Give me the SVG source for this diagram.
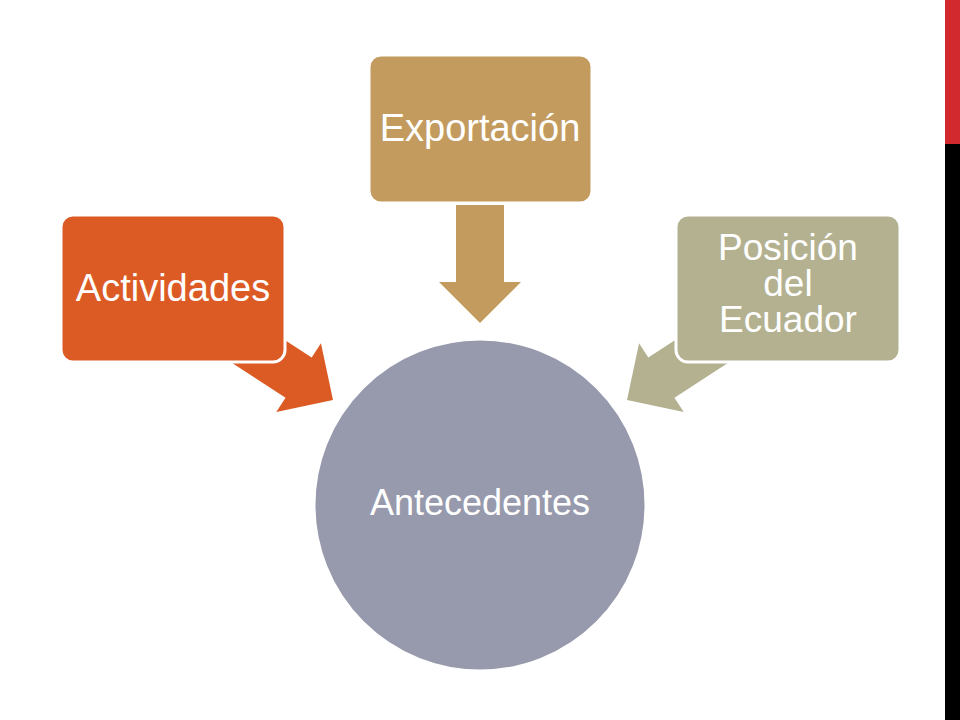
<svg xmlns="http://www.w3.org/2000/svg" width="960" height="720" viewBox="0 0 960 720">
<style>
.lbl{font-family:"Liberation Sans",Arial,sans-serif;fill:#ffffff;text-anchor:middle}
.box{stroke:#ffffff;stroke-width:3}
</style>
<defs>
<path id="arr" d="M0,0 L-41,-41 L-41,-24 L-118,-24 L-118,24 L-41,24 L-41,41 Z"/>
</defs>
<rect width="960" height="720" fill="#ffffff"/>
<rect x="945" y="0" width="15" height="144" fill="#D2292F"/>
<rect x="945" y="144" width="15" height="576" fill="#000000"/>
<g id="connectors">
<use href="#arr" fill="#DC5B25" transform="translate(333,400) rotate(33)"/>
<use href="#arr" fill="#C39B5E" transform="translate(480,323) rotate(90)"/>
<use href="#arr" fill="#B4B191" transform="translate(627,400) rotate(147)"/>
</g>
<g id="node-antecedentes">
<circle cx="480" cy="505" r="166" fill="#9799AC" class="box"/>
<text x="480" y="515" font-size="36" class="lbl">Antecedentes</text>
</g>
<g id="node-actividades">
<rect x="61" y="215" width="224" height="147" rx="12" fill="#DC5B25" class="box"/>
<text x="173" y="301" font-size="38" class="lbl">Actividades</text>
</g>
<g id="node-exportacion">
<rect x="369" y="55" width="223" height="148" rx="12" fill="#C39B5E" class="box"/>
<text x="480" y="141" font-size="38" class="lbl">Exportación</text>
</g>
<g id="node-posicion">
<rect x="676" y="215" width="224" height="147" rx="12" fill="#B4B191" class="box"/>
<text x="788" y="260" font-size="37" class="lbl">Posición</text>
<text x="788" y="296" font-size="37" class="lbl">del</text>
<text x="788" y="332" font-size="37" class="lbl">Ecuador</text>
</g>
</svg>
